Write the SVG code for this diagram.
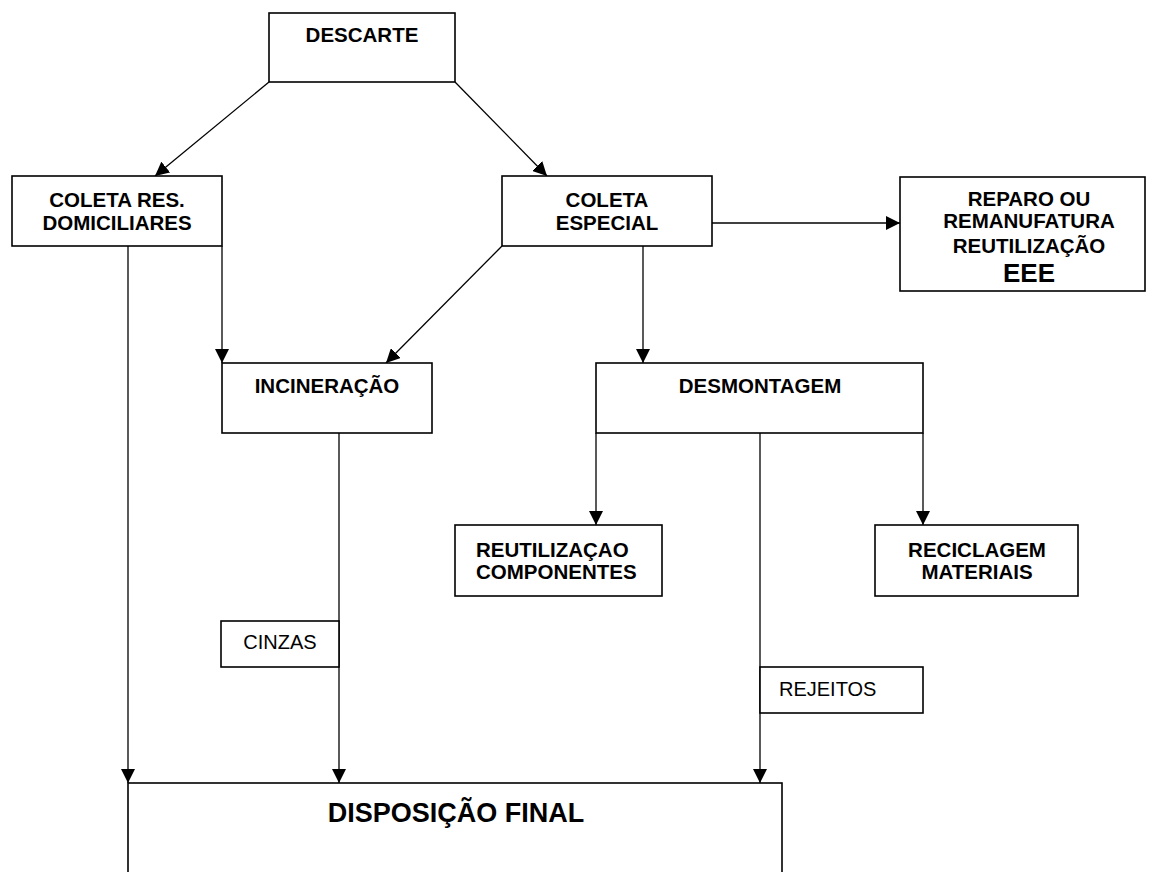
<svg xmlns="http://www.w3.org/2000/svg" width="1149" height="872" viewBox="0 0 1149 872">
<defs>
<marker id="arr" markerUnits="userSpaceOnUse" markerWidth="15" markerHeight="14" refX="14" refY="7" orient="auto">
<path d="M0,0 L14,7 L0,14 z" fill="#000"/>
</marker>
<style>
.box{fill:#fff;stroke:#000;stroke-width:1.6}
.t{font-family:"Liberation Sans",Arial,sans-serif;font-weight:bold;font-size:20.5px;fill:#000;text-anchor:middle}
.tl{font-family:"Liberation Sans",Arial,sans-serif;font-weight:bold;font-size:20.5px;fill:#000}
.tn{font-family:"Liberation Sans",Arial,sans-serif;font-size:20px;fill:#000}
.c{fill:none;stroke:#000;stroke-width:1.3}
</style>
</defs>
<rect width="1149" height="872" fill="#fff"/>
<g id="connectors">
<line class="c" x1="269" y1="82" x2="155" y2="176" marker-end="url(#arr)"/>
<line class="c" x1="455" y1="82" x2="547" y2="176" marker-end="url(#arr)"/>
<line class="c" x1="712" y1="223" x2="900" y2="223" marker-end="url(#arr)"/>
<line class="c" x1="502" y1="246" x2="386" y2="363" marker-end="url(#arr)"/>
<line class="c" x1="643" y1="246" x2="643" y2="363" marker-end="url(#arr)"/>
<line class="c" x1="222" y1="246" x2="222" y2="363" marker-end="url(#arr)"/>
<line class="c" x1="128" y1="246" x2="128" y2="783" marker-end="url(#arr)"/>
<line class="c" x1="339" y1="433" x2="339" y2="783" marker-end="url(#arr)"/>
<line class="c" x1="596" y1="433" x2="596" y2="525" marker-end="url(#arr)"/>
<line class="c" x1="923" y1="433" x2="923" y2="525" marker-end="url(#arr)"/>
<line class="c" x1="760" y1="433" x2="760" y2="783" marker-end="url(#arr)"/>
</g>
<g id="descarte">
<rect class="box" x="269" y="13" width="186" height="69"/>
<text class="t" x="362" y="42">DESCARTE</text>
</g>
<g id="coleta-res">
<rect class="box" x="12" y="176" width="210" height="70"/>
<text class="t" x="117" y="207">COLETA RES.</text>
<text class="t" x="117" y="230">DOMICILIARES</text>
</g>
<g id="coleta-especial">
<rect class="box" x="502" y="176" width="210" height="70"/>
<text class="t" x="607" y="207">COLETA</text>
<text class="t" x="607" y="230">ESPECIAL</text>
</g>
<g id="reparo">
<rect class="box" x="900" y="177" width="245" height="114"/>
<text class="t" x="1029" y="206">REPARO OU</text>
<text class="t" x="1029" y="228">REMANUFATURA</text>
<text class="t" x="1029" y="253">REUTILIZAÇÃO</text>
<text class="t" x="1029" y="282" style="font-size:26px">EEE</text>
</g>
<g id="incineracao">
<rect class="box" x="222" y="363" width="210" height="70"/>
<text class="t" x="327" y="393">INCINERAÇÃO</text>
</g>
<g id="desmontagem">
<rect class="box" x="596" y="363" width="327" height="70"/>
<text class="t" x="760" y="393">DESMONTAGEM</text>
</g>
<g id="reutilizacao-componentes">
<rect class="box" x="455" y="525" width="207" height="71"/>
<text class="tl" x="476" y="557">REUTILIZAÇAO</text>
<text class="tl" x="476" y="579">COMPONENTES</text>
</g>
<g id="reciclagem">
<rect class="box" x="875" y="525" width="203" height="71"/>
<text class="t" x="977" y="557">RECICLAGEM</text>
<text class="t" x="977" y="579">MATERIAIS</text>
</g>
<g id="cinzas">
<rect class="box" x="221" y="621" width="118" height="46"/>
<text class="tn" x="280" y="649" text-anchor="middle">CINZAS</text>
</g>
<g id="rejeitos">
<rect class="box" x="760" y="667" width="163" height="46"/>
<text class="tn" x="779" y="696">REJEITOS</text>
</g>
<g id="disposicao-final">
<rect class="box" x="128" y="783" width="654" height="110"/>
<text class="t" x="456" y="822" style="font-size:27px">DISPOSIÇÃO FINAL</text>
</g>
</svg>
